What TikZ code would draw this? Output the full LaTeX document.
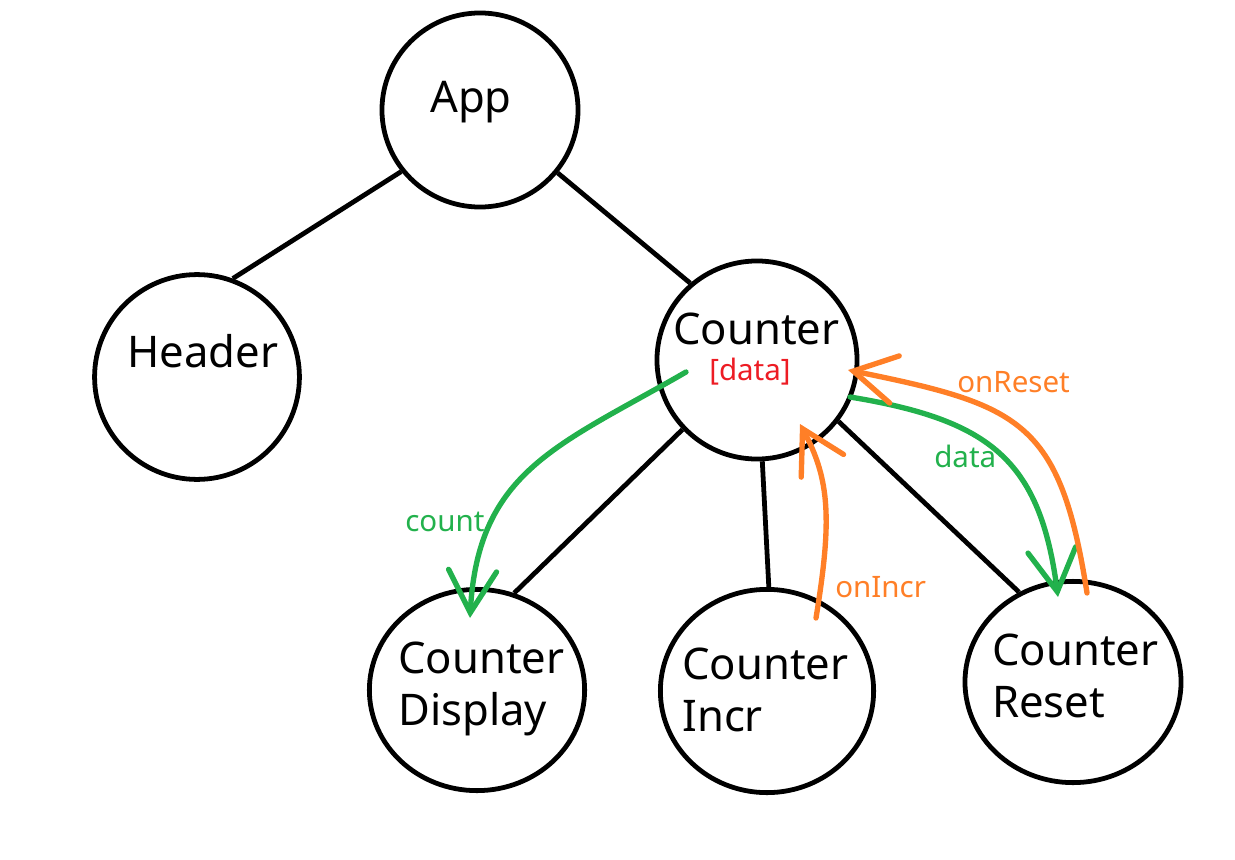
\documentclass[tikz,border=0pt]{standalone}
\usepackage{fontspec}
\setmainfont{Noto Sans}
\usetikzlibrary{shapes.geometric,arrows.meta}

\definecolor{pgreen}{RGB}{34,177,76}
\definecolor{porange}{RGB}{255,127,39}
\definecolor{pred}{RGB}{237,28,36}

\tikzset{
  comp/.style={ellipse, draw=black, line width=3.4pt, inner sep=0pt},
  edge/.style={line width=3.4pt, black},
  big/.style={anchor=base west, inner sep=0pt, align=left,
    font=\fontsize{31}{37}\selectfont},
  small/.style={anchor=base west, inner sep=0pt,
    font=\fontsize{21}{25}\selectfont},
  flow/.style={line width=3.8pt, line cap=round,
    -{Straight Barb[length=1.05cm,width=1.2cm,line cap=round]}},
}

\begin{document}
\begin{tikzpicture}[%
      x=0.025cm, y=-0.025cm,
      ]
      \useasboundingbox (0,0) rectangle (1235,860);

      % components
      \node[comp, minimum width=4.9cm,  minimum height=4.85cm] (app)     at (480,110) {};
      \node[comp, minimum width=5.12cm, minimum height=5.12cm] (header)  at (197,377) {};
      \node[comp, minimum width=5.0cm,  minimum height=4.95cm] (counter) at (757,360) {};
      \node[comp, minimum width=5.38cm, minimum height=5.03cm] (display) at (477,690) {};
      \node[comp, minimum width=5.33cm, minimum height=5.08cm] (incr)    at (767,691) {};
      \node[comp, minimum width=5.4cm,  minimum height=5.03cm] (reset)   at (1073,682) {};

      \node[big] (app-t)     at (430,113) {App};
      \node[big] (header-t)  at (127,367) {Header};
      \node[big] (counter-t) at (673,344) {Counter};
      \node[big, anchor=north west] (display-t) at (398,642) {Counter\\Display};
      \node[big, anchor=north west] (incr-t)    at (682,648) {Counter\\Incr};
      \node[big, anchor=north west] (reset-t)   at (992,634) {Counter\\Reset};

      \node[small, text=pred] (state-t) at (709,380) {[data]};

      % tree
      \foreach \a/\b in {app.218/header.70, app.321/counter.131,
                         counter.223/display.69, counter.273/incr.89,
                         counter.323/reset.121}
        \draw[edge] (\a) -- (\b);

      % props down
      \coordinate (count-s) at (686,372);
      \coordinate (count-e) at (470,618);
      \coordinate (data-s)  at (850,397);
      \coordinate (data-e)  at (1058,597);
      \draw[flow, pgreen] (count-s) .. controls (560,445) and (478,470) .. (count-e);
      \draw[flow, pgreen] (data-s) .. controls (990,420) and (1040,460) .. (data-e);

      % callbacks up
      \coordinate (incr-s)  at (816,618);
      \coordinate (incr-e)  at (800,424);
      \coordinate (reset-s) at (1087,593);
      \coordinate (reset-e) at (848,370);
      \draw[flow, porange] (incr-s) .. controls (832,520) and (830,480) .. (incr-e);
      \draw[flow, porange] (reset-s) .. controls (1060,420) and (1020,405) .. (reset-e);

      \node[small, text=pgreen]  (count-l)   at (405,531) {count};
      \node[small, text=pgreen]  (data-l)    at (934,467) {data};
      \node[small, text=porange] (onincr-l)  at (835,597) {onIncr};
      \node[small, text=porange] (onreset-l) at (957,392) {onReset};
      \end{tikzpicture}
\end{document}
